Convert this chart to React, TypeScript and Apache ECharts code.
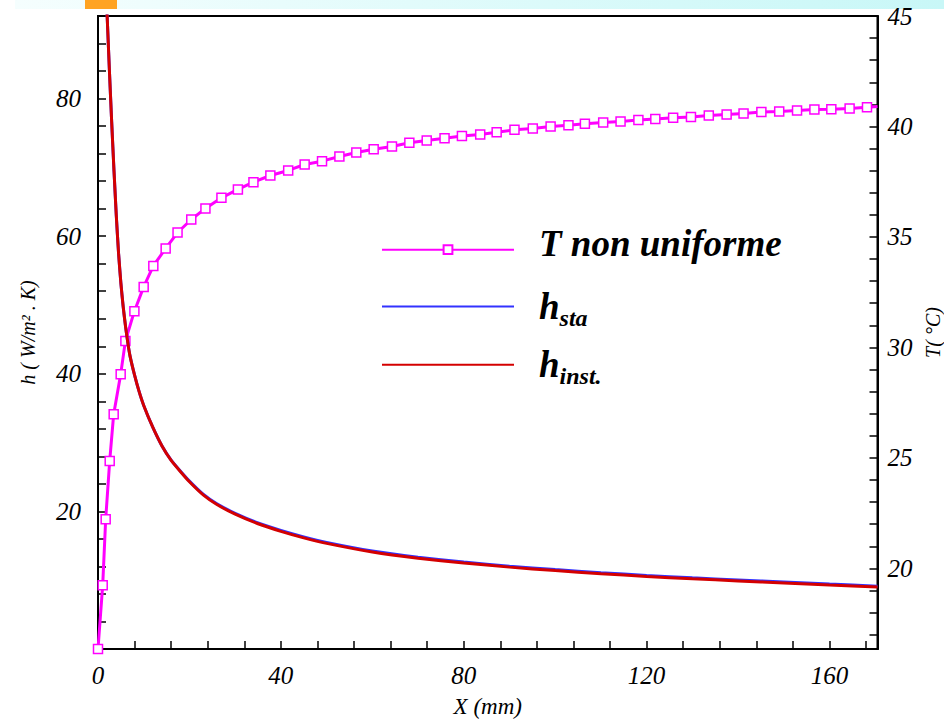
import React, { useEffect, useRef } from "react";
import * as echarts from "echarts";

// h curves (W/m².K), x in mm
const hX = [1.8, 2.0, 2.5, 3.0, 3.5, 4.0, 4.5, 5.0, 5.5, 6.0, 6.5, 7.0, 8.0, 9.0, 10, 12, 14, 16, 18, 20, 23, 26, 30, 35, 40, 45, 50, 60, 70, 80, 90, 100, 110, 120, 130, 140, 150, 160, 170.5];
const hInst = [95, 92, 84, 76.5, 69.5, 63, 57.5, 53.2, 49.8, 47.0, 44.6, 42.6, 39.8, 37.4, 35.4, 32.2, 29.5, 27.4, 25.8, 24.3, 22.4, 21.0, 19.6, 18.2, 17.1, 16.15, 15.35, 14.1, 13.2, 12.5, 11.9, 11.4, 10.95, 10.55, 10.2, 9.9, 9.6, 9.3, 9.0];
const hSta = [95, 92, 84, 76.5, 69.5, 63, 57.5, 53.2, 49.8, 47.0, 44.6, 42.6, 39.8, 37.4, 35.4, 32.2, 29.5, 27.45, 25.87, 24.4, 22.5, 21.1, 19.72, 18.32, 17.22, 16.28, 15.48, 14.23, 13.34, 12.64, 12.04, 11.54, 11.09, 10.69, 10.34, 10.04, 9.74, 9.44, 9.13];

// T non uniforme (°C), x in mm
const tX = [0, 1.03, 1.68, 2.56, 3.43, 4.96, 5.99, 7.96, 9.99, 12.1, 14.8, 17.4, 20.4, 23.5, 27.0, 30.6, 34.0, 37.7, 41.6, 45.2, 49.0, 52.8, 56.5, 60.3, 64.3, 68.1, 71.9, 75.8, 79.6, 83.6, 87.2, 91.1, 95.1, 99.0, 102.9, 106.5, 110.5, 114.3, 118.2, 121.9, 125.8, 129.7, 133.6, 137.5, 141.2, 145.1, 149.0, 152.9, 156.7, 160.4, 164.4, 168.2, 170.5];
const tY = [16.35, 19.24, 22.22, 24.86, 26.98, 28.78, 30.29, 31.64, 32.74, 33.69, 34.48, 35.2, 35.79, 36.29, 36.77, 37.15, 37.48, 37.78, 38.01, 38.28, 38.43, 38.64, 38.82, 38.97, 39.09, 39.26, 39.37, 39.47, 39.57, 39.64, 39.74, 39.85, 39.91, 40.0, 40.06, 40.12, 40.18, 40.23, 40.29, 40.34, 40.39, 40.43, 40.5, 40.54, 40.59, 40.65, 40.68, 40.72, 40.77, 40.78, 40.81, 40.87, 40.9];

const xLabelStep = 40;
const hLabelStep = 20;
const tLabelStep = 5;

const SERIF = '"Liberation Serif", "Times New Roman", serif';

export default function App() {
  const ref = useRef<HTMLDivElement>(null);
  useEffect(() => {
    if (!ref.current) return;
    const chart = echarts.init(ref.current, null, { renderer: "svg" });
    const axisLabelStyle = {
      fontFamily: SERIF,
      fontStyle: "italic",
      fontSize: 25,
      color: "#000",
    };
    const tickStyle = { show: true, inside: true, length: 8, lineStyle: { color: "#000", width: 1.5 } };
    const lineAxis = { show: true, lineStyle: { color: "#000", width: 2 } };

    const tData = tX.map((x, i) =>
      i === tX.length - 1 ? { value: [x, tY[i]], symbol: "none" } : [x, tY[i]]
    );

    const big = {
      fontFamily: SERIF,
      fontStyle: "italic",
      fontWeight: "bold",
      fontSize: 37,
      lineHeight: 46,
      color: "#000",
    };
    const rich = {
      t: { ...big, padding: [0, 0, 13, 0] },
      h: { ...big },
      s: {
        fontFamily: SERIF,
        fontStyle: "italic",
        fontWeight: "bold",
        fontSize: 24,
        color: "#000",
        verticalAlign: "bottom",
      },
    };
    const legendBase = {
      orient: "vertical",
      left: 381,
      padding: 0,
      itemWidth: 132,
      itemHeight: 11,
      itemGap: 0,
      textStyle: { padding: [0, 0, 0, 20], rich },
    };

    chart.setOption({
      animation: false,
      backgroundColor: "#fff",
      graphic: [
        {
          type: "rect",
          shape: { x: 15, y: 0, width: 929, height: 9 },
          style: {
            fill: new echarts.graphic.LinearGradient(0, 0, 1, 0, [
              { offset: 0, color: "#f5fefe" },
              { offset: 1, color: "#c8f7f7" },
            ]),
          },
          silent: true,
        },
        {
          type: "rect",
          shape: { x: 85, y: 0, width: 32, height: 9 },
          style: { fill: "#ffa322" },
          silent: true,
        },
      ],
      grid: {
        left: 98,
        right: 66.5,
        top: 16,
        bottom: 73,
        show: true,
        borderColor: "#000",
        borderWidth: 2,
        backgroundColor: "transparent",
        outerBoundsMode: "none",
        containLabel: false,
      },
      legend: [
        {
          ...legendBase,
          top: 224.7,
          data: ["T non uniforme"],
          formatter: () => "{t|T non uniforme}",
        },
        {
          ...legendBase,
          top: 288,
          data: [{ name: "h_sta", itemStyle: { opacity: 0, borderWidth: 0 } }],
          formatter: () => "{h|h}{s|sta}",
        },
        {
          ...legendBase,
          top: 346.3,
          data: [{ name: "h_inst", itemStyle: { opacity: 0, borderWidth: 0 } }],
          formatter: () => "{h|h}{s|inst.}",
        },
      ],
      xAxis: {
        type: "value",
        min: 0,
        max: 170.5,
        interval: 8,
        name: "X (mm)",
        nameLocation: "middle",
        nameGap: 46,
        nameTextStyle: { fontFamily: SERIF, fontStyle: "italic", fontSize: 23, color: "#000" },
        axisLine: { ...lineAxis, onZero: false },
        axisTick: tickStyle,
        splitLine: { show: false },
        axisLabel: {
          ...axisLabelStyle,
          margin: 14,
          formatter: (v: number) => (v % xLabelStep === 0 ? String(v) : ""),
        },
      },
      yAxis: [
        {
          type: "value",
          position: "left",
          min: 0,
          max: 92,
          interval: 4,
          name: "h ( W/m² . K)",
          nameLocation: "middle",
          nameRotate: 90,
          nameGap: 60,
          nameTextStyle: { fontFamily: SERIF, fontStyle: "italic", fontSize: 20, color: "#000" },
          axisLine: lineAxis,
          axisTick: tickStyle,
          splitLine: { show: false },
          axisLabel: {
            ...axisLabelStyle,
            margin: 17,
            formatter: (v: number) => (v !== 0 && v % hLabelStep === 0 ? String(v) : ""),
          },
        },
        {
          type: "value",
          position: "right",
          min: 16.35,
          max: 45,
          splitNumber: 28,
          name: "T( °C)",
          nameLocation: "middle",
          nameRotate: 90,
          nameGap: 41,
          nameTextStyle: { fontFamily: SERIF, fontStyle: "italic", fontSize: 20, color: "#000" },
          axisLine: lineAxis,
          axisTick: tickStyle,
          splitLine: { show: false },
          axisLabel: {
            ...axisLabelStyle,
            margin: 10,
            formatter: (v: number) =>
              Number.isInteger(v) && v % tLabelStep === 0 ? String(v) : "",
          },
        },
      ],
      series: [
        {
          name: "T non uniforme",
          type: "line",
          yAxisIndex: 1,
          data: tData,
          symbol: "rect",
          symbolSize: 9,
          lineStyle: { color: "#ff00ff", width: 3 },
          itemStyle: { color: "#ffffff", borderColor: "#ff00ff", borderWidth: 1.5 },
          z: 2,
        },
        {
          name: "h_sta",
          type: "line",
          yAxisIndex: 0,
          data: hX.map((x, i) => [x, hSta[i]]),
          symbol: "none",
          smooth: 0.2,
          lineStyle: { color: "#3232ff", width: 3 },
          itemStyle: { color: "#3232ff" },
          z: 3,
        },
        {
          name: "h_inst",
          type: "line",
          yAxisIndex: 0,
          data: hX.map((x, i) => [x, hInst[i]]),
          symbol: "none",
          smooth: 0.2,
          lineStyle: { color: "#d40000", width: 3 },
          itemStyle: { color: "#d40000" },
          z: 4,
        },
      ],
    });
    return () => chart.dispose();
  }, []);
  return (
    <div
      ref={ref}
      style={{ position: "absolute", left: 0, top: 0, width: 944, height: 722 }}
    />
  );
}
